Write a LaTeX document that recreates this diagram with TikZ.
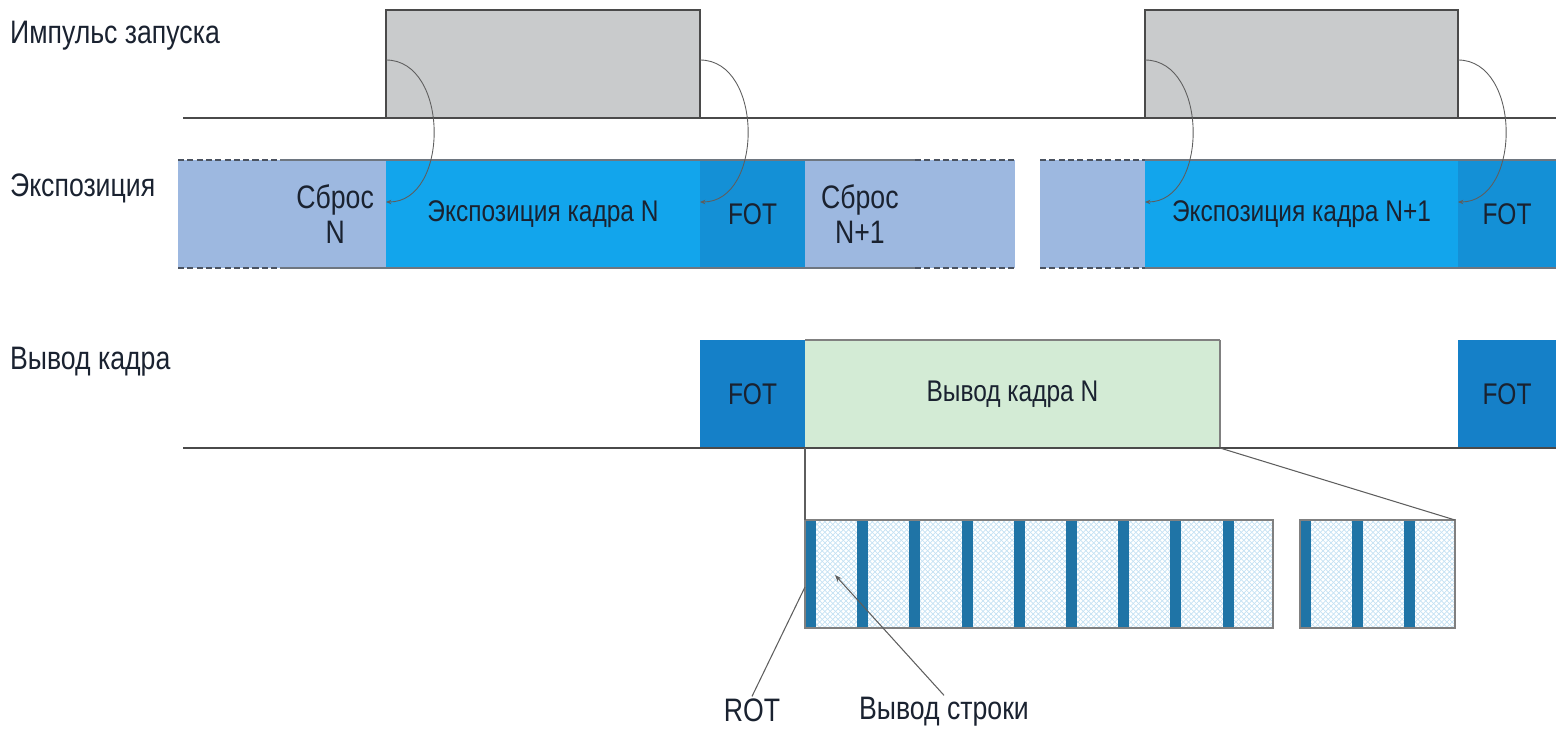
\documentclass[tikz,border=0pt]{standalone}
\usepackage{fontspec}
\setmainfont{Liberation Sans}[FakeStretch=0.82]
\definecolor{pulsegray}{HTML}{C9CBCC}
\definecolor{edgegray}{HTML}{4A4A4A}
\definecolor{rimgray}{HTML}{6E7680}
\definecolor{dashgray}{HTML}{4A5260}
\definecolor{arcgray}{HTML}{5E5E5E}
\definecolor{resetblue}{HTML}{9DB8E0}
\definecolor{expblue}{HTML}{12A5EC}
\definecolor{fotblue}{HTML}{1490D6}
\definecolor{fotdark}{HTML}{1580C8}
\definecolor{outgreen}{HTML}{D3EBD5}
\definecolor{rowfill}{HTML}{DAEFFB}
\definecolor{rowhatch}{HTML}{C4E1F3}
\definecolor{rowstripe}{HTML}{1F74A6}
\definecolor{inkdark}{HTML}{1A2230}
\usetikzlibrary{arrows.meta,calc,patterns}
\newdimen\pxu \pxu=0.02cm
\tikzset{wh/.style 2 args={minimum width=#1\pxu, minimum height=#2\pxu}}

\begin{document}
\begin{tikzpicture}[x=0.02cm, y=-0.02cm,
    blk/.style={anchor=north west, inner sep=0pt, outer sep=0pt, text=inkdark,
      font=\fontsize{17}{19}\selectfont, align=center},
    lbl/.style={text=inkdark, font=\fontsize{18.5}{20}\selectfont, inner sep=1pt},
    sigline/.style={draw=edgegray, line width=1.1pt},
    topedge/.style={draw=edgegray, line width=1.6pt},
    rim/.style={draw=rimgray, line width=1.7pt},
    rimdash/.style={draw=dashgray, line width=1.7pt, dash pattern=on 3.5pt off 1.8pt},
    cause/.style={draw=arcgray, line width=0.5pt, looseness=1.15,
      -{Stealth[length=3pt,width=2.5pt]}},
    pointer/.style={draw=arcgray, line width=0.6pt},
    rowbox/.style={fill=rowfill, pattern=north east lines, pattern color=rowhatch,
      postaction={pattern=north west lines, pattern color=rowhatch}}]

    \useasboundingbox (0,0) rectangle (1556,730);

    % Row labels
    \node[lbl, anchor=west] (lblTrig) at (8,36)  {Импульс запуска};
    \node[lbl, anchor=west] (lblExp)  at (8,188) {Экспозиция};
    \node[lbl, anchor=west] (lblOut)  at (8,362) {Вывод кадра};

    % Trigger pulses
    \node[blk, wh={314}{108}, fill=pulsegray, draw=edgegray, line width=0.6pt]
      (pulseA) at (386,10) {};
    \node[blk, wh={313}{108}, fill=pulsegray, draw=edgegray, line width=0.6pt]
      (pulseB) at (1145,10) {};
    \draw[topedge] (pulseA.north west) -- (pulseA.north east);
    \draw[topedge] (pulseB.north west) -- (pulseB.north east);
    \draw[sigline] (183,118) -- (1556,118);

    % Exposure row
    \node[blk, wh={208}{108}, fill=resetblue] (rstA) at (178,160) {};
    \node[blk, wh={314}{108}, fill=expblue]   (expA) at (386,160) {Экспозиция кадра N};
    \node[blk, wh={105}{108}, fill=fotblue]   (fotA) at (700,160) {FOT};
    \node[blk, wh={210}{108}, fill=resetblue] (rstB) at (805,160) {};
    \node[blk, wh={105}{108}, fill=resetblue] (rstC) at (1040,160) {};
    \node[blk, wh={313}{108}, fill=expblue]   (expB) at (1145,160) {Экспозиция кадра N+1};
    \node[blk, wh={98}{108},  fill=fotblue]   (fotB) at (1458,160) {FOT};

    \node[lbl, align=center, anchor=east] (rstAtxt) at ($(rstA.east)+(-10,0)$) {Сброс\\N};
    \node[lbl, align=center, anchor=west] (rstBtxt) at ($(rstB.west)+(14,0)$) {Сброс\\N+1};

    \draw[rimdash] (178,160) -- (280,160);
    \draw[rimdash] (178,268) -- (280,268);
    \draw[rim]     (280,160) -- (915,160);
    \draw[rim]     (280,268) -- (915,268);
    \draw[rimdash] (915,160) -- (1015,160);
    \draw[rimdash] (915,268) -- (1015,268);
    \draw[rimdash] (1040,160) -- (1145,160);
    \draw[rimdash] (1040,268) -- (1145,268);
    \draw[rim]     (1145,160) -- (1556,160);
    \draw[rim]     (1145,268) -- (1556,268);

    % Trigger edges to exposure events
    \draw[cause] ($(pulseA.north west)+(0,50)$) to[out=0,in=0] ($(expA.north west)+(0,42)$);
    \draw[cause] ($(pulseA.north east)+(0,50)$) to[out=0,in=0] ($(fotA.north west)+(0,42)$);
    \draw[cause] ($(pulseB.north west)+(0,50)$) to[out=0,in=0] ($(expB.north west)+(0,42)$);
    \draw[cause] ($(pulseB.north east)+(0,50)$) to[out=0,in=0] ($(fotB.north west)+(0,42)$);

    % Frame output row
    \node[blk, wh={105}{108}, fill=fotdark]  (fotC) at (700,340)  {FOT};
    \node[blk, wh={415}{108}, fill=outgreen] (outA) at (805,340)  {Вывод кадра N};
    \node[blk, wh={98}{108},  fill=fotdark]  (fotD) at (1458,340) {FOT};
    \draw[draw=gray, line width=1.6pt] (outA.north west) -- (outA.north east);
    \draw[draw=gray, line width=0.8pt] (outA.north east) -- (outA.south east);
    \draw[sigline] (183,448) -- (1556,448);

    % Row readout detail
    \node[blk, wh={468}{108}, rowbox] (rowsA) at (805,520) {};
    \node[blk, wh={155}{108}, rowbox] (rowsB) at (1300,520) {};
    \foreach \k in {0,...,8}
      \fill[rowstripe] ($(rowsA.north west)+(52.2*\k,0)$) rectangle +(11,108);
    \foreach \k in {0,...,2}
      \fill[rowstripe] ($(rowsB.north west)+(52*\k,0)$) rectangle +(11,108);
    \draw[draw=gray, line width=0.9pt] (rowsA.north west) rectangle (rowsA.south east);
    \draw[draw=gray, line width=0.9pt] (rowsB.north west) rectangle (rowsB.south east);

    \draw[pointer] (outA.south west) -- (rowsA.north west);
    \draw[pointer] (outA.south east) -- (rowsB.north east);

    % Callouts
    \node[lbl] (rot)    at (752,710) {ROT};
    \node[lbl] (rowout) at (944,712) {Вывод строки};
    \coordinate (rowcell) at (835,575);
    \draw[pointer] (rot.north) -- ($(rowsA.north west)+(0,67)$);
    \draw[pointer, -{Stealth[length=4pt,width=3pt]}] (rowout.north) -- (rowcell);
\end{tikzpicture}
\end{document}
